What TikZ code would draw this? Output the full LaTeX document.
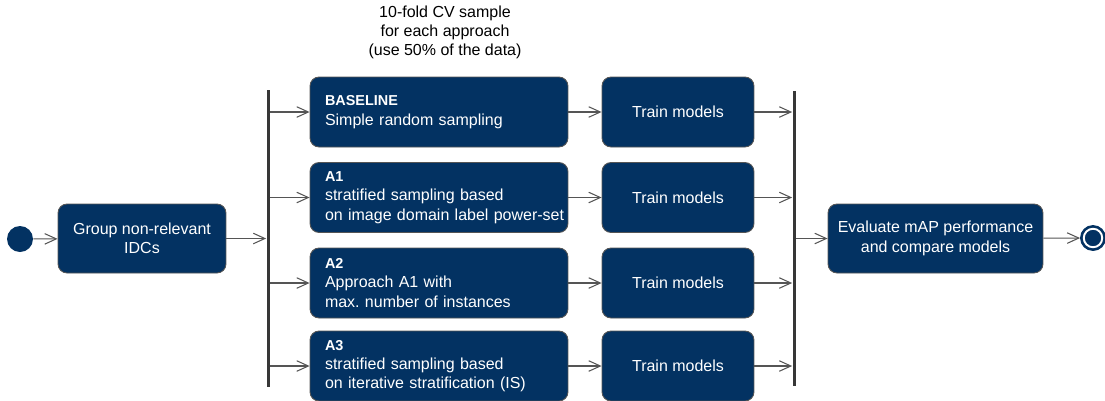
\documentclass[tikz,border=0pt]{standalone}
\usepackage{fontspec}
\setmainfont{Liberation Sans}
\usetikzlibrary{arrows.meta}
\definecolor{navy}{RGB}{3,50,98}
\definecolor{edgegray}{RGB}{85,85,85}
\definecolor{bargray}{RGB}{55,55,55}
% bold heading line inside an approach box
\newcommand\approachlabel[1]{{\fontsize{8.2pt}{11pt}\selectfont\bfseries #1}}
\frenchspacing
\begin{document}
\begin{tikzpicture}[x=0.02cm, y=-0.02cm,
  every node/.style={font=\fontsize{9.1pt}{11pt}\selectfont},
  act/.style={draw=edgegray, line width=0.5pt, fill=navy, text=white,
    rounded corners=0.18cm, align=center, inner sep=0pt},
  branch/.style={act, minimum width=5.16cm, minimum height=1.40cm,
    text width=4.56cm, align=left},
  train/.style={act, minimum width=3.04cm, minimum height=1.40cm},
  bar/.style={fill=bargray, inner sep=0pt, minimum width=0.06cm},
  flow/.style={draw=edgegray, line width=0.6pt,
    -{Straight Barb[length=6.6pt,width=6pt]}}
]
\useasboundingbox (0,0) rectangle (1105,400);

% title above the sampling branches
\node[align=center] (title) at (445,32.5)
  {10-fold CV sample\\for each approach\\(use 50\% of the data)};

% initial node and grouping step
\node[circle, fill=navy, minimum size=0.52cm, inner sep=0pt] (start) at (20,239) {};
\node[act, minimum width=3.36cm, minimum height=1.38cm] (group) at (142,238.5)
  {Group non-relevant\\IDCs};

% fork and join bars
\node[bar, minimum height=5.94cm] (fork) at (268,238.5) {};
\node[bar, minimum height=5.90cm] (join) at (794,238.5) {};

% sampling approaches
\node[branch] (b0) at (439,112)
  {\approachlabel{BASELINE}\\Simple random sampling};
\node[branch] (b1) at (439,197.5)
  {\approachlabel{A1}\\stratified sampling based\\\mbox{on image domain label power-set}};
\node[branch] (b2) at (439,283)
  {\approachlabel{A2}\\Approach A1 with\\max. number of instances};
\node[branch] (b3) at (439,366)
  {\approachlabel{A3}\\stratified sampling based\\on iterative stratification (IS)};

% training steps
\node[train] (t0) at (678,112) {Train models};
\node[train] (t1) at (678,197.5) {Train models};
\node[train] (t2) at (678,283) {Train models};
\node[train] (t3) at (678,366) {Train models};

% evaluation and final node
\node[act, minimum width=4.30cm, minimum height=1.38cm] (eval) at (935.5,238.5)
  {Evaluate mAP performance\\and compare models};
\node[circle, fill=navy, draw=navy, line width=0.5pt, minimum size=0.5cm, inner sep=0pt] (stop) at (1093,238) {};
\draw[white, line width=1.1pt] (stop.center) circle (0.185cm);

% control flow
\draw[flow] (start) -- (group);
\draw[flow] (group) -- (fork);
\foreach \i in {0,1,2,3} {
  \draw[flow] (fork.east |- b\i.west) -- (b\i.west);
  \draw[flow] (b\i) -- (t\i);
  \draw[flow] (t\i.east) -- (join.west |- t\i.east);
}
\draw[flow] (join.east |- eval.west) -- (eval.west);
\draw[flow] (eval) -- (stop);
\end{tikzpicture}
\end{document}
